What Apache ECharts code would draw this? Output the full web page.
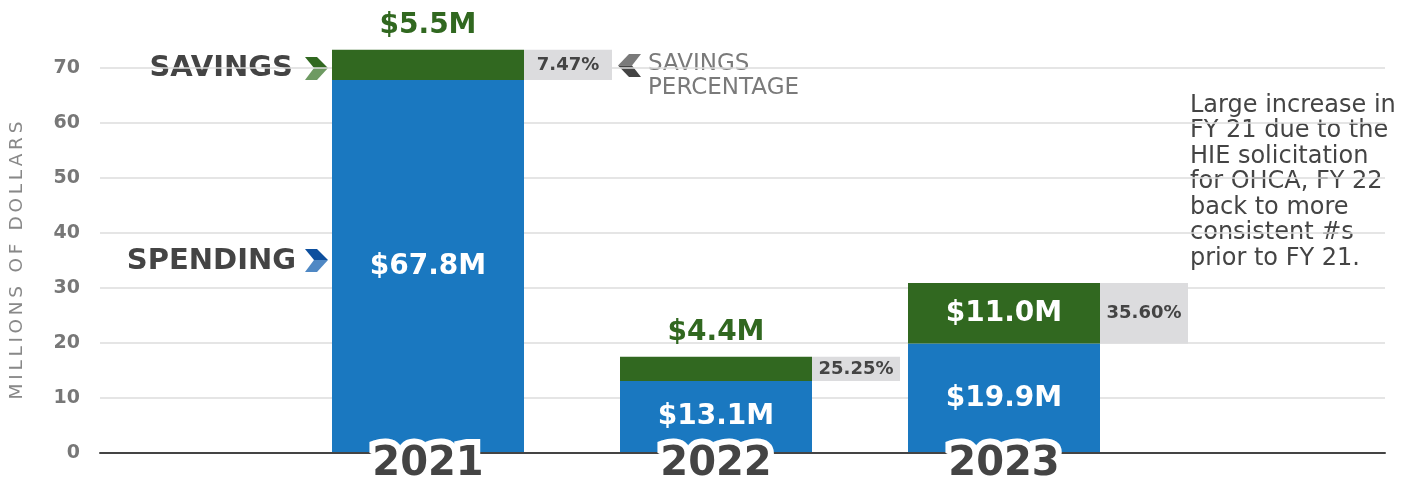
<!DOCTYPE html>
<html>
<head>
<meta charset="utf-8">
<script src="https://cdn.jsdelivr.net/npm/echarts@6/dist/echarts.min.js"></script>
<style>
  html, body { margin: 0; padding: 0; background: #fff; }
  #chart { width: 1413px; height: 485px; }
</style>
</head>
<body>
<div id="chart"></div>
<script>
// data (millions of dollars)
var years = ['2021', '2022', '2023']
var spending = [67.8, 13.1, 19.9]
var savings = [5.5, 4.4, 11.0]
var savingsPct = ['7.47%', '25.25%', '35.60%']
var yTicks = [0, 10, 20, 30, 40, 50, 60, 70]
var note = 'Large increase in\nFY 21 due to the\nHIE solicitation\nfor OHCA, FY 22\nback to more\nconsistent #s\nprior to FY 21.'

var FONT = 'DejaVu Sans'
var BLUE = '#1a78c0'
var GREEN = '#316820'
var DARK = '#444'

function money(v) {
  return '$' + v.toFixed(1) + 'M'
}

// spread letters a bit, the original axis name is letter-spaced
function spaced(s) {
  return s.split('').join('\u2009')
}

var chart = echarts.init(document.getElementById('chart'))

chart.setOption({
  animation: false,
  grid: [
    // ticks and gridlines, 0..70
    { left: 100, right: 28, top: 68, bottom: 32, outerBoundsMode: 'none' },
    // bars, same scale but room above 70 (0..80)
    { left: 284, right: 265, top: 13, bottom: 32, outerBoundsMode: 'none' }
  ],
  xAxis: [
    {
      gridIndex: 0,
      type: 'value',
      min: 0,
      max: 1,
      z: 4,
      axisLine: { show: true, lineStyle: { color: DARK, width: 2 } },
      axisTick: { show: false },
      axisLabel: { show: false },
      splitLine: { show: false }
    },
    {
      gridIndex: 1,
      type: 'category',
      data: years,
      z: 10,
      axisLine: { show: false },
      axisTick: { show: false },
      axisLabel: {
        margin: -8,
        fontFamily: FONT,
        fontSize: 40,
        fontWeight: 'bold',
        color: DARK,
        textBorderColor: '#fff',
        textBorderWidth: 12
      }
    }
  ],
  yAxis: [
    {
      gridIndex: 0,
      type: 'value',
      min: yTicks[0],
      max: yTicks[yTicks.length - 1],
      interval: 10,
      name: spaced('MILLIONS OF DOLLARS'),
      nameLocation: 'middle',
      nameGap: 73,
      nameTextStyle: { fontFamily: FONT, fontSize: 18.5, color: '#888' },
      axisLine: { show: false },
      axisTick: { show: false },
      axisLabel: { margin: 20, fontFamily: FONT, fontSize: 19, fontWeight: 'bold', color: '#777' },
      splitLine: { lineStyle: { color: '#dcdcdc', width: 1.5 } }
    },
    {
      gridIndex: 1,
      type: 'value',
      min: 0,
      max: 80,
      show: false
    }
  ],
  series: [
    {
      name: 'Spending',
      type: 'bar',
      xAxisIndex: 1,
      yAxisIndex: 1,
      stack: 'total',
      barWidth: 192,
      data: spending,
      itemStyle: { color: BLUE },
      label: {
        show: true,
        position: 'inside',
        formatter: function (p) { return money(p.value) },
        fontFamily: FONT,
        fontSize: 28,
        fontWeight: 'bold',
        color: '#fff'
      }
    },
    {
      name: 'Savings',
      type: 'bar',
      xAxisIndex: 1,
      yAxisIndex: 1,
      stack: 'total',
      barWidth: 192,
      data: savings.map(function (v, i) {
        // the tall green block carries its label inside, the thin ones above
        var inside = v > 8
        return {
          value: v,
          label: inside
            ? { position: 'inside', color: '#fff' }
            : { position: 'top', color: GREEN, distance: 10 }
        }
      }),
      itemStyle: { color: GREEN },
      label: {
        show: true,
        formatter: function (p) { return money(p.value) },
        fontFamily: FONT,
        fontSize: 28,
        fontWeight: 'bold'
      }
    },
    {
      name: 'Savings %',
      type: 'custom',
      xAxisIndex: 1,
      yAxisIndex: 1,
      z: 3,
      data: years.map(function (y, i) { return [i, spending[i], savings[i]] }),
      renderItem: function (params, api) {
        var i = api.value(0)
        var top = api.coord([i, api.value(1) + api.value(2)])
        var bot = api.coord([i, api.value(1)])
        var bw = api.size([1, 0])[0] * 2 / 3
        var x = top[0] + bw / 2
        var w = 88
        return {
          type: 'group',
          children: [
            {
              type: 'rect',
              shape: { x: x, y: top[1], width: w, height: bot[1] - top[1] },
              style: { fill: '#dcdcde' }
            },
            {
              type: 'text',
              style: {
                text: savingsPct[params.dataIndex],
                x: x + w / 2,
                y: (top[1] + bot[1]) / 2,
                align: 'center',
                verticalAlign: 'middle',
                fontFamily: FONT,
                fontSize: 18,
                fontWeight: 'bold',
                fill: DARK
              }
            }
          ]
        }
      }
    }
  ],
  graphic: [
    {
      type: 'text',
      style: { text: 'SAVINGS', x: 293, y: 68, align: 'right', verticalAlign: 'middle', fontFamily: FONT, fontSize: 29, fontWeight: 'bold', fill: DARK }
    },
    { type: 'polygon', shape: { points: [[305, 57], [317, 57], [328, 68], [314, 68]] }, style: { fill: GREEN } },
    { type: 'polygon', shape: { points: [[314, 68], [328, 68], [317, 80], [305, 80]] }, style: { fill: '#6e9a62' } },
    {
      type: 'text',
      style: { text: 'SPENDING', x: 296, y: 261, align: 'right', verticalAlign: 'middle', fontFamily: FONT, fontSize: 29, fontWeight: 'bold', fill: DARK }
    },
    { type: 'polygon', shape: { points: [[305, 249], [317, 249], [328, 260], [314, 260]] }, style: { fill: '#0d4f9e' } },
    { type: 'polygon', shape: { points: [[314, 260], [328, 260], [317, 272], [305, 272]] }, style: { fill: '#4f88c4' } },
    { type: 'polygon', shape: { points: [[641, 54], [629, 54], [618, 65.5], [632, 65.5]] }, style: { fill: '#7a7a7a' } },
    { type: 'polygon', shape: { points: [[632, 65.5], [618, 65.5], [629, 77], [641, 77]] }, style: { fill: '#444' } },
    {
      type: 'text',
      style: { text: 'SAVINGS\nPERCENTAGE', x: 648, y: 52, lineHeight: 24, fontFamily: FONT, fontSize: 23, fill: '#7a7a7a' }
    },
    {
      type: 'text',
      style: { text: note, x: 1190, y: 93, lineHeight: 25.5, fontFamily: FONT, fontSize: 24, fill: DARK }
    }
  ]
})
</script>
</body>
</html>
